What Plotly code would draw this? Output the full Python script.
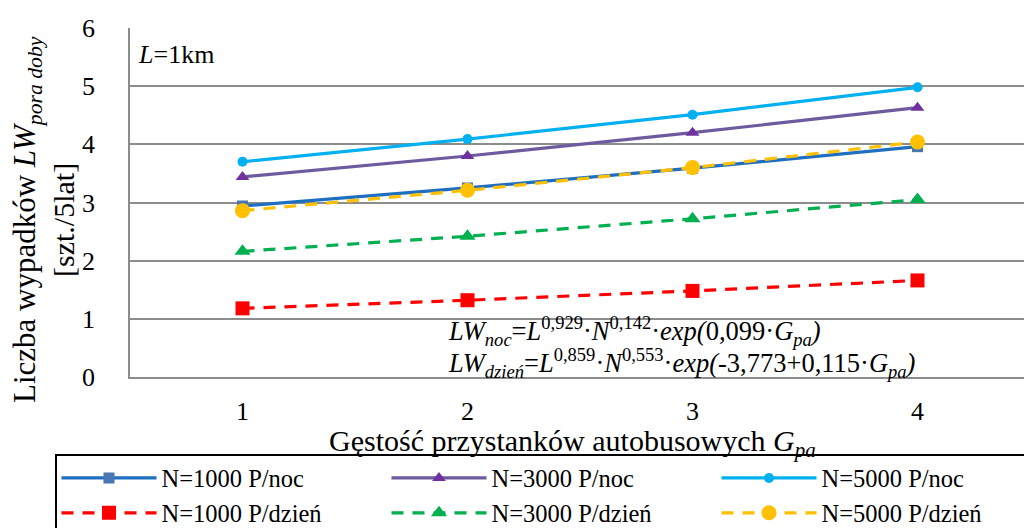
import plotly.graph_objects as go

# Data
gpa = [1, 2, 3, 4]
n1000_noc = [2.94, 3.25, 3.59, 3.96]
n3000_noc = [3.44, 3.80, 4.20, 4.63]
n5000_noc = [3.70, 4.09, 4.51, 4.98]
n1000_dzien = [1.18, 1.32, 1.48, 1.66]
n3000_dzien = [2.16, 2.42, 2.72, 3.05]
n5000_dzien = [2.86, 3.21, 3.60, 4.04]
y_ticks = [0, 1, 2, 3, 4, 5, 6]

FONT = "Liberation Serif, Times New Roman, Times, serif"
W, H = 1024, 528
L, R, T, B = 130, 0, 28, 151
PW, PH = W - L - R, H - T - B


def px(x):
    return (x - L) / PW


def py(y):
    return (H - B - y) / PH


DASH = "12px,9px"
series = [
    ("N=1000 P/noc", n1000_noc, "#1F6FC1", "#4A76B3", "square", 11, "solid"),
    ("N=3000 P/noc", n3000_noc, "#6E5A9E", "#7030A0", "triangle-up", 12, "solid"),
    ("N=5000 P/noc", n5000_noc, "#00B0F0", "#00B0F0", "circle", 10, "solid"),
    ("N=1000 P/dzień", n1000_dzien, "#FF0000", "#FF0000", "square", 14, DASH),
    ("N=3000 P/dzień", n3000_dzien, "#00B050", "#00B050", "triangle-up", 14, DASH),
    ("N=5000 P/dzień", n5000_dzien, "#FFC000", "#FFC000", "circle", 15, DASH),
]

fig = go.Figure()
for name, vals, lc, mc, sym, size, dash in series:
    fig.add_trace(go.Scatter(
        x=gpa, y=vals, name=name, mode="lines+markers",
        line=dict(color=lc, width=3.2, dash=dash),
        marker=dict(symbol=sym, size=size, color=mc, line=dict(width=0)),
        cliponaxis=False,
    ))

IW = 95
fig.update_layout(
    width=W, height=H,
    margin=dict(l=L, r=R, t=T, b=B, autoexpand=False),
    paper_bgcolor="white", plot_bgcolor="white",
    font=dict(family=FONT, color="black", size=26),
    showlegend=True,
    legend=dict(
        orientation="h", x=px(55), xanchor="left", y=py(454), yanchor="top",
        bordercolor="black", borderwidth=1.5, bgcolor="white",
        font=dict(family=FONT, size=24.5, color="black"),
        entrywidth=330 - IW - 15, entrywidthmode="pixels", itemwidth=IW,
        traceorder="normal",
    ),
    xaxis=dict(
        range=[0.5, 0.5 + PW / 225.0], tickvals=gpa, ticktext=[str(v) for v in gpa],
        showgrid=False, zeroline=False, showline=True, linecolor="#8C8C8C", linewidth=1.5,
        ticks="", ticklabelstandoff=10, tickfont=dict(family=FONT, size=26),
    ),
    yaxis=dict(
        range=[0, 6], tickvals=y_ticks, showgrid=True, gridcolor="#8C8C8C", gridwidth=1.5,
        zeroline=False, showline=True, linecolor="#8C8C8C", linewidth=1.5,
        ticks="", ticklabelstandoff=28, tickfont=dict(family=FONT, size=26),
    ),
)

ann = [
    dict(x=px(27), y=py(220), text="Liczba wypadków <i>LW</i><sub><i>pora doby</i></sub>",
         textangle=-90, font=dict(size=31)),
    dict(x=px(63), y=py(220), text="[szt./5lat]", textangle=-90, font=dict(size=30)),
    dict(x=px(572), y=py(443), text="Gęstość przystanków autobusowych <i>G</i><sub><i>pa</i></sub>",
         font=dict(size=30)),
    dict(x=px(136), y=py(55), xanchor="left", text="<i>L</i>=1km", font=dict(size=26)),
    dict(x=px(446), y=py(331), xanchor="left",
         text="<i>LW</i><sub><i>noc</i></sub>=<i>L</i><sup>0,929</sup>·<i>N</i><sup>0,142</sup>·<i>exp(</i>0,099·<i>G</i><sub><i>pa</i></sub><i>)</i>",
         font=dict(size=26.5)),
    dict(x=px(446), y=py(363), xanchor="left",
         text="<i>LW</i><sub><i>dzień</i></sub>=<i>L</i><sup>0,859</sup>·<i>N</i><sup>0,553</sup>·<i>exp(</i>-3,773+0,115·<i>G</i><sub><i>pa</i></sub><i>)</i>",
         font=dict(size=26.5)),
]
for a in ann:
    a.setdefault("xanchor", "center")
    a.update(xref="paper", yref="paper", yanchor="middle", showarrow=False)
    a["font"].update(family=FONT, color="black")
    fig.add_annotation(**a)

fig.write_html("out.html")
